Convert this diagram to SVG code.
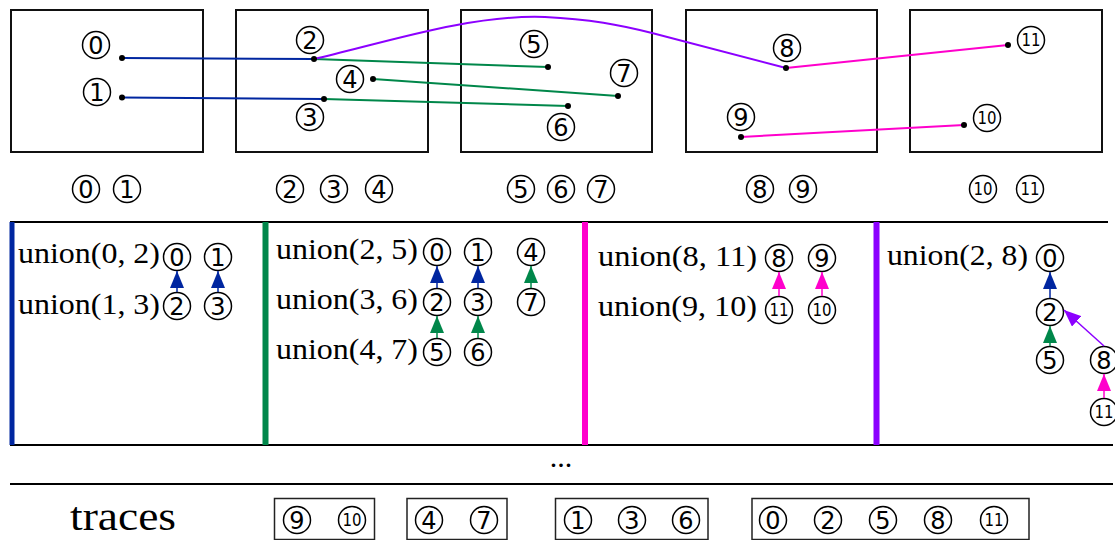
<svg xmlns="http://www.w3.org/2000/svg" width="1115" height="540" viewBox="0 0 1115 540">
<style>
.box{fill:none;stroke:#111;stroke-width:2}
.tbox{fill:none;stroke:#222;stroke-width:1.5}
.c{fill:#fff;stroke:#000;stroke-width:1.5}
.d{font-family:"DejaVu Sans",sans-serif;font-size:24px;text-anchor:middle;fill:#000}
.d2{font-family:"DejaVu Sans",sans-serif;font-size:17px;text-anchor:middle;fill:#000}
.un{font-family:"Liberation Serif",serif;font-size:30px;fill:#000}
.rule{stroke:#000;stroke-width:2}
.dot{fill:#000}
.blue{stroke:#0026a0}
.green{stroke:#00874a}
.mag{stroke:#ff00cc}
.pur{stroke:#8c00ff}
.conn line,.conn path{fill:none;stroke-width:2}
.arr line{stroke-width:1.5}
</style>
<defs>
<marker id="ab" markerUnits="userSpaceOnUse" markerWidth="17" markerHeight="14" refX="17" refY="7" orient="auto"><path d="M0,0 L17,7 L0,14 z" fill="#0026a0"/></marker>
<marker id="ag" markerUnits="userSpaceOnUse" markerWidth="17" markerHeight="14" refX="17" refY="7" orient="auto"><path d="M0,0 L17,7 L0,14 z" fill="#00874a"/></marker>
<marker id="am" markerUnits="userSpaceOnUse" markerWidth="17" markerHeight="14" refX="17" refY="7" orient="auto"><path d="M0,0 L17,7 L0,14 z" fill="#ff00cc"/></marker>
<marker id="ap" markerUnits="userSpaceOnUse" markerWidth="17" markerHeight="14" refX="17" refY="7" orient="auto"><path d="M0,0 L17,7 L0,14 z" fill="#8c00ff"/></marker>
</defs>
<rect width="1115" height="540" fill="#fff"/>

<!-- top boxes -->
<g id="box-01"><rect class="box" x="11" y="10" width="192" height="142"/></g>
<g id="box-234"><rect class="box" x="236" y="10" width="192" height="142"/></g>
<g id="box-567"><rect class="box" x="461" y="10" width="191" height="142"/></g>
<g id="box-89"><rect class="box" x="686" y="10" width="191" height="142"/></g>
<g id="box-1011"><rect class="box" x="910" y="10" width="192" height="142"/></g>

<!-- top connectors -->
<g id="connectors" class="conn">
<line class="blue" x1="122" y1="58" x2="314" y2="59"/>
<line class="blue" x1="122" y1="97.5" x2="324" y2="99"/>
<line class="green" x1="314" y1="59" x2="548" y2="67"/>
<line class="green" x1="324" y1="99" x2="568" y2="106"/>
<line class="green" x1="373" y1="79" x2="618" y2="96"/>
<path class="pur" d="M314,59 C380,44 470,14 545,17 C590,19 620,25 652,33 L786,68"/>
<line class="mag" x1="786" y1="68" x2="1008" y2="45"/>
<line class="mag" x1="741" y1="137" x2="964" y2="125"/>
</g>
<g id="dots">
<circle class="dot" cx="122" cy="58" r="3"/><circle class="dot" cx="122" cy="97.5" r="3"/>
<circle class="dot" cx="314" cy="59" r="3"/><circle class="dot" cx="324" cy="99" r="3"/><circle class="dot" cx="373" cy="79" r="3"/>
<circle class="dot" cx="548" cy="67" r="3"/><circle class="dot" cx="568" cy="106" r="3"/><circle class="dot" cx="618" cy="96" r="3"/>
<circle class="dot" cx="786" cy="68" r="3"/><circle class="dot" cx="741" cy="137" r="3"/>
<circle class="dot" cx="1008" cy="45" r="3"/><circle class="dot" cx="964" cy="125" r="3"/>
</g>

<!-- top node labels -->
<g id="top-labels">
<g id="t0"><circle class="c" cx="96" cy="45" r="13.5"/><text class="d" x="96" y="53.7">0</text></g>
<g id="t1"><circle class="c" cx="97" cy="92" r="13.5"/><text class="d" x="97" y="100.7">1</text></g>
<g id="t2"><circle class="c" cx="310" cy="40" r="13.5"/><text class="d" x="310" y="48.7">2</text></g>
<g id="t4"><circle class="c" cx="350" cy="79" r="13.5"/><text class="d" x="350" y="87.7">4</text></g>
<g id="t3"><circle class="c" cx="310" cy="117" r="13.5"/><text class="d" x="310" y="125.7">3</text></g>
<g id="t5"><circle class="c" cx="534" cy="44" r="13.5"/><text class="d" x="534" y="52.7">5</text></g>
<g id="t7"><circle class="c" cx="624" cy="73" r="13.5"/><text class="d" x="624" y="81.7">7</text></g>
<g id="t6"><circle class="c" cx="561" cy="127" r="13.5"/><text class="d" x="561" y="135.7">6</text></g>
<g id="t8"><circle class="c" cx="787" cy="48" r="13.5"/><text class="d" x="787" y="56.7">8</text></g>
<g id="t9"><circle class="c" cx="741" cy="117" r="13.5"/><text class="d" x="741" y="125.7">9</text></g>
<g id="t11"><circle class="c" cx="1031" cy="40" r="13.5"/><text class="d2" x="1031" y="46.2" textLength="19" lengthAdjust="spacingAndGlyphs">11</text></g>
<g id="t10"><circle class="c" cx="987" cy="118" r="13.5"/><text class="d2" x="987" y="124.2" textLength="19" lengthAdjust="spacingAndGlyphs">10</text></g>
</g>

<!-- row labels -->
<g id="row-labels">
<g><circle class="c" cx="86" cy="189" r="13.5"/><text class="d" x="86" y="197.7">0</text></g>
<g><circle class="c" cx="127" cy="189" r="13.5"/><text class="d" x="127" y="197.7">1</text></g>
<g><circle class="c" cx="290" cy="189" r="13.5"/><text class="d" x="290" y="197.7">2</text></g>
<g><circle class="c" cx="334" cy="189" r="13.5"/><text class="d" x="334" y="197.7">3</text></g>
<g><circle class="c" cx="379" cy="189" r="13.5"/><text class="d" x="379" y="197.7">4</text></g>
<g><circle class="c" cx="521" cy="189" r="13.5"/><text class="d" x="521" y="197.7">5</text></g>
<g><circle class="c" cx="561" cy="189" r="13.5"/><text class="d" x="561" y="197.7">6</text></g>
<g><circle class="c" cx="601" cy="189" r="13.5"/><text class="d" x="601" y="197.7">7</text></g>
<g><circle class="c" cx="760" cy="189" r="13.5"/><text class="d" x="760" y="197.7">8</text></g>
<g><circle class="c" cx="803" cy="189" r="13.5"/><text class="d" x="803" y="197.7">9</text></g>
<g><circle class="c" cx="983" cy="189" r="13.5"/><text class="d2" x="983" y="195.2" textLength="19" lengthAdjust="spacingAndGlyphs">10</text></g>
<g><circle class="c" cx="1030" cy="189" r="13.5"/><text class="d2" x="1030" y="195.2" textLength="19" lengthAdjust="spacingAndGlyphs">11</text></g>
</g>

<!-- panel frame -->
<g id="panel">
<line class="rule" x1="10" y1="222" x2="1108" y2="222"/>
<line class="rule" x1="10" y1="445" x2="1113" y2="445"/>
<rect x="9.5" y="222" width="5" height="223" fill="#0026a0"/>
<rect x="262.5" y="222" width="6" height="223" fill="#00874a"/>
<rect x="582" y="222" width="6" height="223" fill="#ff00cc"/>
<rect x="873.5" y="222" width="6" height="223" fill="#8c00ff"/>
</g>

<!-- panel 1 -->
<g id="step1">
<text class="un" x="18" y="263" textLength="142" lengthAdjust="spacingAndGlyphs">union(0, 2)</text>
<text class="un" x="18" y="314" textLength="142" lengthAdjust="spacingAndGlyphs">union(1, 3)</text>
<g><circle class="c" cx="177" cy="257" r="13.5"/><text class="d" x="177" y="265.7">0</text></g>
<g><circle class="c" cx="218" cy="257" r="13.5"/><text class="d" x="218" y="265.7">1</text></g>
<g><circle class="c" cx="177" cy="306" r="13.5"/><text class="d" x="177" y="314.7">2</text></g>
<g><circle class="c" cx="218" cy="306" r="13.5"/><text class="d" x="218" y="314.7">3</text></g>
<g class="arr"><line class="blue" x1="177" y1="292" x2="177" y2="271" marker-end="url(#ab)"/>
<line class="blue" x1="218" y1="292" x2="218" y2="271" marker-end="url(#ab)"/></g>
</g>

<!-- panel 2 -->
<g id="step2">
<text class="un" x="276" y="259" textLength="142" lengthAdjust="spacingAndGlyphs">union(2, 5)</text>
<text class="un" x="276" y="309" textLength="142" lengthAdjust="spacingAndGlyphs">union(3, 6)</text>
<text class="un" x="276" y="359" textLength="142" lengthAdjust="spacingAndGlyphs">union(4, 7)</text>
<g><circle class="c" cx="437" cy="252" r="13.5"/><text class="d" x="437" y="260.7">0</text></g>
<g><circle class="c" cx="478" cy="252" r="13.5"/><text class="d" x="478" y="260.7">1</text></g>
<g><circle class="c" cx="531" cy="252" r="13.5"/><text class="d" x="531" y="260.7">4</text></g>
<g><circle class="c" cx="437" cy="302" r="13.5"/><text class="d" x="437" y="310.7">2</text></g>
<g><circle class="c" cx="478" cy="302" r="13.5"/><text class="d" x="478" y="310.7">3</text></g>
<g><circle class="c" cx="531" cy="302" r="13.5"/><text class="d" x="531" y="310.7">7</text></g>
<g><circle class="c" cx="437" cy="352" r="13.5"/><text class="d" x="437" y="360.7">5</text></g>
<g><circle class="c" cx="478" cy="352" r="13.5"/><text class="d" x="478" y="360.7">6</text></g>
<g class="arr">
<line class="blue" x1="437" y1="288" x2="437" y2="266" marker-end="url(#ab)"/>
<line class="blue" x1="478" y1="288" x2="478" y2="266" marker-end="url(#ab)"/>
<line class="green" x1="531" y1="288" x2="531" y2="266" marker-end="url(#ag)"/>
<line class="green" x1="437" y1="338" x2="437" y2="316" marker-end="url(#ag)"/>
<line class="green" x1="478" y1="338" x2="478" y2="316" marker-end="url(#ag)"/>
</g>
</g>

<!-- panel 3 -->
<g id="step3">
<text class="un" x="598" y="266" textLength="159" lengthAdjust="spacingAndGlyphs">union(8, 11)</text>
<text class="un" x="598" y="316" textLength="159" lengthAdjust="spacingAndGlyphs">union(9, 10)</text>
<g><circle class="c" cx="779" cy="258" r="13.5"/><text class="d" x="779" y="266.7">8</text></g>
<g><circle class="c" cx="822" cy="258" r="13.5"/><text class="d" x="822" y="266.7">9</text></g>
<g><circle class="c" cx="779" cy="310" r="13.5"/><text class="d2" x="779" y="316.2" textLength="19" lengthAdjust="spacingAndGlyphs">11</text></g>
<g><circle class="c" cx="822" cy="310" r="13.5"/><text class="d2" x="822" y="316.2" textLength="19" lengthAdjust="spacingAndGlyphs">10</text></g>
<g class="arr">
<line class="mag" x1="779" y1="296" x2="779" y2="272" marker-end="url(#am)"/>
<line class="mag" x1="822" y1="296" x2="822" y2="272" marker-end="url(#am)"/>
</g>
</g>

<!-- panel 4 -->
<g id="step4">
<text class="un" x="887" y="265" textLength="141" lengthAdjust="spacingAndGlyphs">union(2, 8)</text>
<g><circle class="c" cx="1050" cy="258" r="13.5"/><text class="d" x="1050" y="266.7">0</text></g>
<g><circle class="c" cx="1050" cy="312" r="13.5"/><text class="d" x="1050" y="320.7">2</text></g>
<g><circle class="c" cx="1050" cy="360" r="13.5"/><text class="d" x="1050" y="368.7">5</text></g>
<g><circle class="c" cx="1104" cy="360" r="13.5"/><text class="d" x="1104" y="368.7">8</text></g>
<g><circle class="c" cx="1104" cy="412" r="13.5"/><text class="d2" x="1104" y="418.2" textLength="19" lengthAdjust="spacingAndGlyphs">11</text></g>
<g class="arr">
<line class="blue" x1="1050" y1="298" x2="1050" y2="272" marker-end="url(#ab)"/>
<line class="green" x1="1050" y1="346" x2="1050" y2="326" marker-end="url(#ag)"/>
<line class="pur" x1="1104" y1="346" x2="1064" y2="310" marker-end="url(#ap)"/>
<line class="mag" x1="1104" y1="398" x2="1104" y2="374" marker-end="url(#am)"/>
</g>
</g>

<text class="un" x="561" y="467" text-anchor="middle">...</text>
<line class="rule" x1="10" y1="484" x2="1113" y2="484"/>

<!-- traces -->
<g id="traces">
<text class="un" x="70" y="530" style="font-size:40px" textLength="106" lengthAdjust="spacingAndGlyphs">traces</text>
<g id="trace-910"><rect class="tbox" x="274.5" y="498.5" width="100" height="41"/>
<circle class="c" cx="297" cy="520" r="13.5"/><text class="d" x="297" y="528.7">9</text>
<circle class="c" cx="352" cy="520" r="13.5"/><text class="d2" x="352" y="526.2" textLength="19" lengthAdjust="spacingAndGlyphs">10</text></g>
<g id="trace-47"><rect class="tbox" x="407" y="498.5" width="100" height="41"/>
<circle class="c" cx="429" cy="520" r="13.5"/><text class="d" x="429" y="528.7">4</text>
<circle class="c" cx="484" cy="520" r="13.5"/><text class="d" x="484" y="528.7">7</text></g>
<g id="trace-136"><rect class="tbox" x="555.5" y="498.5" width="152.5" height="41"/>
<circle class="c" cx="578" cy="520" r="13.5"/><text class="d" x="578" y="528.7">1</text>
<circle class="c" cx="632" cy="520" r="13.5"/><text class="d" x="632" y="528.7">3</text>
<circle class="c" cx="686" cy="520" r="13.5"/><text class="d" x="686" y="528.7">6</text></g>
<g id="trace-025811"><rect class="tbox" x="752" y="498.5" width="277" height="41"/>
<circle class="c" cx="773" cy="520" r="13.5"/><text class="d" x="773" y="528.7">0</text>
<circle class="c" cx="828" cy="520" r="13.5"/><text class="d" x="828" y="528.7">2</text>
<circle class="c" cx="883" cy="520" r="13.5"/><text class="d" x="883" y="528.7">5</text>
<circle class="c" cx="938" cy="520" r="13.5"/><text class="d" x="938" y="528.7">8</text>
<circle class="c" cx="994" cy="520" r="13.5"/><text class="d2" x="994" y="526.2" textLength="19" lengthAdjust="spacingAndGlyphs">11</text></g>
</g>
</svg>
